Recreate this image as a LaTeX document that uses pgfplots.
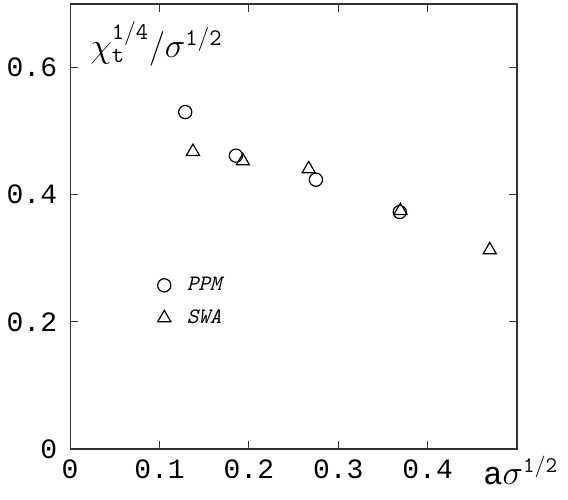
\documentclass[border=0pt]{standalone}
\usepackage{fontspec}
\usepackage{pgfplots}
\pgfplotsset{compat=1.18}
\newfontfamily\tickfont{Liberation Mono}

\begin{document}
\begin{tikzpicture}
\begin{axis}[
    scale only axis,
    width=223.5pt, height=222.5pt,
    xmin=0, xmax=0.5, ymin=0, ymax=0.7,
    xtick={0,0.1,0.2,0.3,0.4},
    ytick={0,0.2,0.4,0.6},
    tick align=inside,
    major tick length=4pt,
    xtick pos=both, ytick pos=both,
    axis line style={line width=0.6pt, black!80},
    tick style={line width=0.6pt, black!80},
    /pgf/number format/assume math mode=true,
    tick label style={font=\tickfont\fontsize{14}{14}\selectfont},
    xticklabel style={yshift=-2pt},
    yticklabel style={xshift=-3pt},
    xticklabel pos=lower, yticklabel pos=left,
    legend style={draw=none, fill=none, at={(rel axis cs:0.17,0.405)}, anchor=north west,
      font=\ttfamily\itshape\fontsize{11}{11}\selectfont, row sep=4pt,
      legend cell align=left},
    legend image code/.code={\draw[#1] (0cm,0cm) -- plot coordinates {(0.2cm,0cm)};},
    legend cell align=left,
]
\addplot[only marks, mark=o, mark size=3.3pt, mark options={line width=0.6pt}] coordinates {
  (0.1288,0.530) (0.1855,0.4614) (0.2750,0.4236) (0.3688,0.3727)};
\addplot[only marks, mark=triangle, mark size=3.8pt, mark options={line width=0.6pt}] coordinates {
  (0.1374,0.4677) (0.1933,0.4530) (0.2669,0.4404) (0.3695,0.3748) (0.4695,0.3129)};
\legend{\hspace{6pt}PPM,\hspace{6pt}SWA}
\node[anchor=west, font=\fontsize{17}{17}\selectfont] at (rel axis cs:0.03,0.91)
  {$\chi_{\mathtt{t}}^{\mathtt{1/4}}/\sigma^{\mathtt{1/2}}$};
\end{axis}
\node[anchor=base west, inner sep=0pt, font=\fontsize{16}{16}\selectfont] at ([xshift=206.5pt,yshift=-18pt]current axis.south west)
  {{\tickfont a}$\sigma^{\mathtt{1/2}}$};
\path ([shift={(-35pt,-25.5pt)}]current axis.south west) rectangle ([shift={(25.5pt,2pt)}]current axis.north east);
\end{tikzpicture}
\end{document}
